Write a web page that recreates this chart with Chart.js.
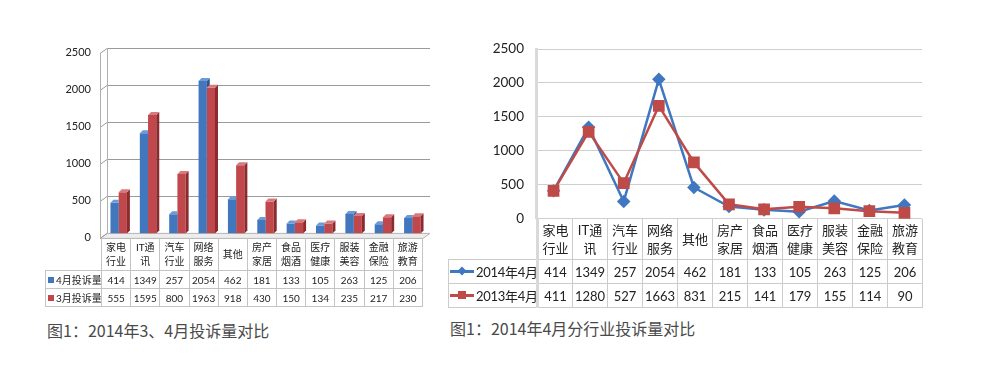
<!DOCTYPE html>
<html>
<head>
<meta charset="utf-8">
<script src="https://cdn.jsdelivr.net/npm/chart.js@4.4.1/dist/chart.umd.min.js"></script>
<style>
  html, body { margin: 0; padding: 0; background: #fff; }
  body { width: 988px; height: 366px; position: relative; overflow: hidden;
         font-family: Lato, "Noto Sans CJK SC", sans-serif; color: #222; }
  canvas { position: absolute; }
  table { position: absolute; border-collapse: collapse; table-layout: fixed; }
  td { padding: 0; text-align: center; vertical-align: middle; white-space: nowrap; overflow: hidden; }
  #tblL { left: 45px; top: 238px; width: 378px; font-size: 10px; }
  #tblL td { border: 1px solid #c4c4c4; }
  #tblL tr.hd td { height: 32px; line-height: 14px; border-top: none; }
  #tblL tr.rw td { height: 17px; }
  #tblL td.lg { text-align: left; padding-left: 2px; }
  #tblR { left: 448px; top: 219px; width: 475px; font-size: 13px; }
  #tblR td { border: 1px solid #cccccc; }
  #tblR tr.hd td { height: 40px; line-height: 18px; border-top: none; }
  #tblR tr.rw td { height: 23px; }
  #tblR td.first { border-left: 3px solid #d9d9d9; }
  #tblR td.lg { text-align: left; padding-left: 1px; letter-spacing: -0.3px; }
  td.blank { border: none !important; }
  .sq { display: inline-block; width: 6px; height: 6px; margin-right: 2px; vertical-align: 1px; }
  .ln { display: inline-block; position: relative; width: 24px; height: 3px; margin-right: 2px; vertical-align: 4px; }
  .ln i { position: absolute; left: 8px; top: -3px; width: 8px; height: 8px; }
  .cap { position: absolute; font-family: "Noto Sans CJK SC", sans-serif; font-size: 16px; color: #4a4a4a; white-space: nowrap; }
</style>
</head>
<body>
<canvas id="barChart" width="440" height="240" style="left:0;top:0"></canvas>
<canvas id="lineChart" width="500" height="225" style="left:440px;top:0"></canvas>
<table id="tblL"></table>
<table id="tblR"></table>
<div class="cap" style="left:47px;top:318px">图1：2014年3、4月投诉量对比</div>
<div class="cap" style="left:450px;top:316px">图1：2014年4月分行业投诉量对比</div>
<script>
// ─── Data ─────────────────────────────────────────────────────────────────────
const categories = [
  ['家电', '行业'], ['IT通', '讯'], ['汽车', '行业'], ['网络', '服务'], ['其他'],
  ['房产', '家居'], ['食品', '烟酒'], ['医疗', '健康'], ['服装', '美容'],
  ['金融', '保险'], ['旅游', '教育'],
];
const aprLabel = '4月投诉量';
const marLabel = '3月投诉量';
const apr2014 = [414, 1349, 257, 2054, 462, 181, 133, 105, 263, 125, 206];
const mar2014 = [555, 1595, 800, 1963, 918, 430, 150, 134, 235, 217, 230];

const y2014Label = '2014年4月';
const y2013Label = '2013年4月';
const y2014Apr = [414, 1349, 257, 2054, 462, 181, 133, 105, 263, 125, 206];
const y2013Apr = [411, 1280, 527, 1663, 831, 215, 141, 179, 155, 114, 90];

const yMin = 0, yMax = 2500, yStep = 500;

const BLUE = '#4277be', RED = '#c0474b';
const LBLUE = '#3f78c0', LRED = '#be4b48';

// ─── 3D bar helper (left chart) ───────────────────────────────────────────────
const DX = 3, DY = -3;         // bar depth
const WY = 5;                  // floor depth
const shade = {
  0: { side: '#2c568f', top: '#6a9bd8' },
  1: { side: '#8c2b2e', top: '#d9797b' },
};

function tracePoly(ctx, pts) {
  ctx.moveTo(pts[0][0], pts[0][1]);
  for (let i = 1; i < pts.length; i++) ctx.lineTo(pts[i][0], pts[i][1]);
  ctx.closePath();
}
function poly(ctx, pts, fill, stroke) {
  ctx.beginPath();
  tracePoly(ctx, pts);
  if (fill) { ctx.fillStyle = fill; ctx.fill(); }
  if (stroke) { ctx.strokeStyle = stroke; ctx.lineWidth = 1; ctx.stroke(); }
}
function barBox(el) {
  const { x, y, base, width } = el.getProps(['x', 'y', 'base', 'width'], true);
  return { l: x - width / 2, r: x + width / 2, y, base };
}

const box3d = {
  id: 'box3d',
  beforeDatasetsDraw(chart) {
    const { ctx, chartArea: a, scales: { y } } = chart;
    ctx.save();
    poly(ctx, [[a.left - 4, a.bottom + WY], [a.left + 3, a.bottom],
               [a.right + 3, a.bottom], [a.right - 4, a.bottom + WY]], '#ededed', '#b5b5b5');
    ctx.strokeStyle = '#9a9a9a';
    ctx.lineWidth = 1;
    for (let v = yMin; v <= yMax; v += yStep) {
      const py = Math.round(y.getPixelForValue(v)) + 0.5;
      ctx.beginPath();
      ctx.moveTo(a.left - 4, py + WY);
      ctx.lineTo(a.left + 3, py);
      if (v > 0) ctx.lineTo(a.right + 3, py);
      ctx.stroke();
    }
    ctx.strokeStyle = '#b0b0b0';
    ctx.beginPath();
    ctx.moveTo(a.left - 3.5, a.bottom + WY);
    ctx.lineTo(a.left - 3.5, a.top + WY);
    ctx.moveTo(a.left + 3.5, a.bottom);
    ctx.lineTo(a.left + 3.5, a.top);
    ctx.stroke();
    ctx.restore();
  },
  afterDatasetDraw(chart, args) {
    const { ctx, width, height } = chart;
    const c = shade[args.index];
    const other = args.index === 0 ? chart.getDatasetMeta(1) : null;
    args.meta.data.forEach((el, i) => {
      const b = barBox(el);
      ctx.save();
      if (other && other.data[i]) {
        // keep the neighbouring red bar in front of the blue depth faces
        const o = barBox(other.data[i]);
        ctx.beginPath();
        ctx.rect(0, 0, width, height);
        tracePoly(ctx, [[o.l, o.base], [o.l, o.y], [o.l + DX, o.y + DY], [o.r + DX, o.y + DY],
                        [o.r + DX, o.base + DY], [o.r, o.base]]);
        ctx.clip('evenodd');
      }
      poly(ctx, [[b.r, b.y], [b.r + DX, b.y + DY], [b.r + DX, b.base + DY], [b.r, b.base]], c.side);
      poly(ctx, [[b.l, b.y], [b.l + DX, b.y + DY], [b.r + DX, b.y + DY], [b.r, b.y]], c.top);
      ctx.restore();
    });
  },
};

// Build once, measure the plot area, then grow the canvas so the area's
// bottom/right edge lands where the reference has it.
function makeChart(id, build, want) {
  const canvas = document.getElementById(id);
  let chart = new Chart(canvas, build());
  const a = chart.chartArea;
  const dw = Math.round(want.right - a.right), dh = Math.round(want.bottom - a.bottom);
  if (dw || dh) {
    const w = chart.width + dw, h = chart.height + dh;
    chart.destroy();
    canvas.width = w; canvas.height = h;
    canvas.style.width = w + 'px'; canvas.style.height = h + 'px';
    chart = new Chart(canvas, build());
  }
  return chart;
}

// ─── Left: 3D column chart ────────────────────────────────────────────────────
makeChart('barChart', () => ({
  type: 'bar',
  data: {
    labels: categories.map(c => c.join('')),
    datasets: [
      { label: aprLabel, data: apr2014, backgroundColor: BLUE,
        categoryPercentage: 0.56, barPercentage: 1.0 },
      { label: marLabel, data: mar2014, backgroundColor: RED,
        categoryPercentage: 0.56, barPercentage: 1.0 },
    ],
  },
  options: {
    responsive: false,
    maintainAspectRatio: false,
    animation: false,
    devicePixelRatio: 1,
    layout: { padding: { top: 48, bottom: 7, right: 13, left: 0 } },
    plugins: { legend: { display: false }, tooltip: { enabled: false } },
    scales: {
      x: { display: false },
      y: {
        min: yMin, max: yMax,
        afterFit(s) { s.width = 104; },
        grid: { display: false, drawTicks: false },
        border: { display: false },
        ticks: { stepSize: yStep, padding: 13, labelOffset: 4, color: '#222',
                 callback: v => String(v),
                 font: { family: 'Lato', size: 11 } },
      },
    },
  },
  plugins: [box3d],
}), { right: 427, bottom: 233 });

// ─── Right: line chart ────────────────────────────────────────────────────────
makeChart('lineChart', () => ({
  type: 'line',
  data: {
    labels: categories.map(c => c.join('')),
    datasets: [
      { label: y2014Label, data: y2014Apr, borderColor: LBLUE, backgroundColor: LBLUE,
        borderWidth: 2.5, pointStyle: 'rectRot', pointRadius: 5, order: 1 },
      { label: y2013Label, data: y2013Apr, borderColor: LRED, backgroundColor: LRED,
        borderWidth: 2.5, pointStyle: 'rect', pointRadius: 6.5, order: 0 },
    ],
  },
  options: {
    responsive: false,
    maintainAspectRatio: false,
    animation: false,
    devicePixelRatio: 1,
    layout: { padding: { top: 49, bottom: 6, right: 18, left: 0 } },
    plugins: { legend: { display: false }, tooltip: { enabled: false } },
    scales: {
      x: { display: false, offset: true },
      y: {
        min: yMin, max: yMax,
        afterFit(s) { s.width = 96; },
        grid: { color: '#cfcfcf', drawTicks: false },
        border: { display: true, color: '#d9d9d9', width: 3 },
        ticks: { stepSize: yStep, padding: 12, color: '#222',
                 callback: v => String(v),
                 font: { family: 'Lato', size: 13.5 } },
      },
    },
  },
}), { right: 482, bottom: 219 });

// ─── Data tables ──────────────────────────────────────────────────────────────
function buildTable(id, firstW, rows) {
  const t = document.getElementById(id);
  const cols = '<colgroup><col style="width:' + firstW + 'px">' +
    categories.map(() => '<col>').join('') + '</colgroup>';
  let html = cols + '<tr class="hd"><td class="blank"></td>' +
    categories.map((c, i) => '<td' + (i === 0 ? ' class="first"' : '') + '>' + c.join('<br>') + '</td>').join('') + '</tr>';
  rows.forEach(r => {
    html += '<tr class="rw"><td class="lg">' + r.key + r.label + '</td>' +
      r.values.map((v, i) => '<td' + (i === 0 ? ' class="first"' : '') + '>' + v + '</td>').join('') + '</tr>';
  });
  t.innerHTML = html;
}

buildTable('tblL', 56, [
  { key: '<span class="sq" style="background:' + BLUE + '"></span>', label: aprLabel, values: apr2014 },
  { key: '<span class="sq" style="background:' + RED + '"></span>', label: marLabel, values: mar2014 },
]);
buildTable('tblR', 89, [
  { key: '<span class="ln" style="background:' + LBLUE + '"><i style="background:' + LBLUE +
         ';transform:rotate(45deg) scale(0.8)"></i></span>', label: y2014Label, values: y2014Apr },
  { key: '<span class="ln" style="background:' + LRED + '"><i style="background:' + LRED +
         '"></i></span>', label: y2013Label, values: y2013Apr },
]);
</script>
</body>
</html>
